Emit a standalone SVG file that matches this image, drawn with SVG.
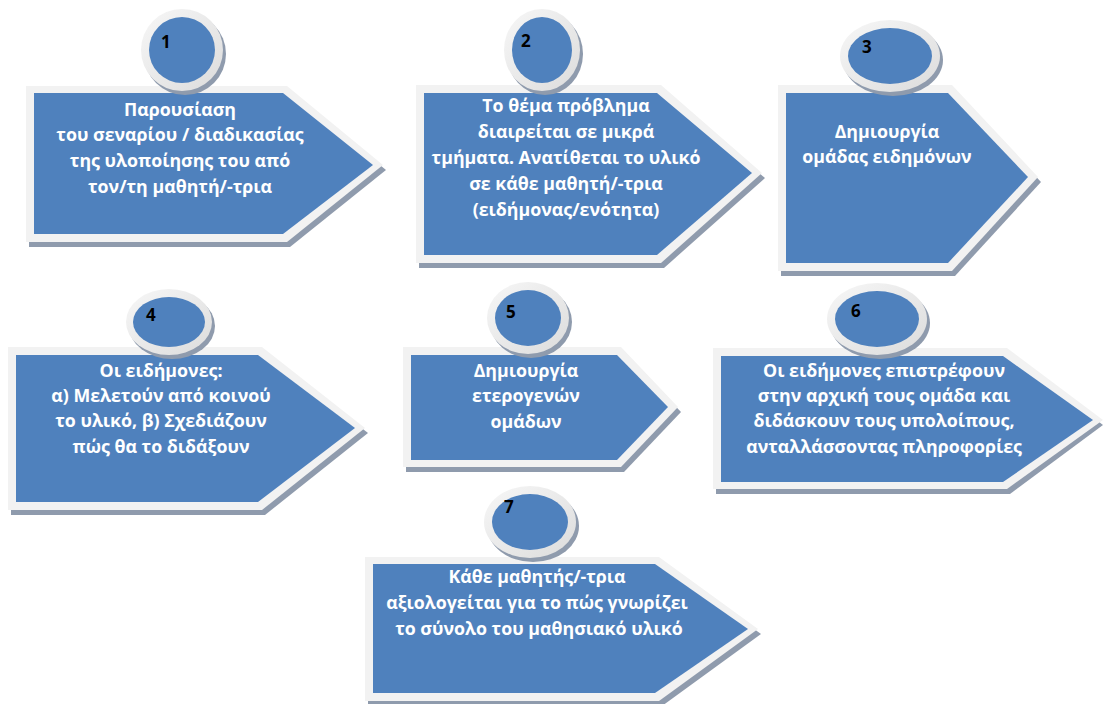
<svg xmlns="http://www.w3.org/2000/svg" width="1103" height="704" viewBox="0 0 1103 704">
<style>
.sh{fill:#8f9bad}
.bd{fill:#f2f2f2}
.bl{fill:#4f81bd}
.rg{fill:url(#ring)}
.cs{fill:#8f9bad}
.t{font-family:"Open Sans","Noto Sans",sans-serif;font-weight:700;font-size:17.8px;fill:#ffffff;text-anchor:middle}
.n{font-family:"Open Sans","Noto Sans",sans-serif;font-weight:700;font-size:17px;fill:#000000}
</style>
<defs>
<linearGradient id="ring" x1="0" y1="0" x2="1" y2="1">
<stop offset="0" stop-color="#f7f7f7"/>
<stop offset="1" stop-color="#dcdcdc"/>
</linearGradient>
</defs>
<rect width="1103" height="704" fill="#ffffff"/>

<g id="node1">
<polygon class="sh" points="29,91 290,91 386,170 290,247 29,247"/>
<polygon class="bd" points="26,86 287,86 383,165 287,242 26,242"/>
<polygon class="bl" points="34,93 283,93 373,165 283,234 34,234"/>
<ellipse class="cs" cx="185" cy="54" rx="41" ry="41"/>
<ellipse class="rg" cx="182" cy="50" rx="41" ry="41"/>
<ellipse class="bl" cx="182" cy="50" rx="33" ry="33"/>
<text class="n" x="161" y="48">1</text>
<text class="t"><tspan x="180" y="116">Παρουσίαση</tspan><tspan x="180" y="141">του σεναρίου / διαδικασίας</tspan><tspan x="180" y="167">της υλοποίησης του από</tspan><tspan x="180" y="193">τον/τη μαθητή/-τρια</tspan></text>
</g>

<g id="node2">
<polygon class="sh" points="419,90 664,90 765,178 664,268 419,268"/>
<polygon class="bd" points="416,85 661,85 762,173 661,263 416,263"/>
<polygon class="bl" points="424,93 657,93 752,173 657,255 424,255"/>
<ellipse class="cs" cx="545" cy="54" rx="38" ry="41"/>
<ellipse class="rg" cx="542" cy="50" rx="38" ry="41"/>
<ellipse class="bl" cx="542" cy="50" rx="30" ry="33"/>
<text class="n" x="521" y="47">2</text>
<text class="t"><tspan x="566" y="112">Το θέμα πρόβλημα</tspan><tspan x="566" y="138">διαιρείται σε μικρά</tspan><tspan x="566" y="164">τμήματα. Ανατίθεται το υλικό</tspan><tspan x="566" y="190">σε κάθε μαθητή/-τρια</tspan><tspan x="566" y="216">(ειδήμονας/ενότητα)</tspan></text>
</g>

<g id="node3">
<polygon class="sh" points="781,90 955,90 1041,182 955,276 781,276"/>
<polygon class="bd" points="778,85 952,85 1038,177 952,271 778,271"/>
<polygon class="bl" points="786,93 948,93 1028,177 948,263 786,263"/>
<ellipse class="cs" cx="893" cy="60" rx="50" ry="36"/>
<ellipse class="rg" cx="890" cy="56" rx="50" ry="36"/>
<ellipse class="bl" cx="890" cy="56" rx="42" ry="28"/>
<text class="n" x="862" y="53">3</text>
<text class="t"><tspan x="887" y="138">Δημιουργία</tspan><tspan x="887" y="163">ομάδας ειδημόνων</tspan></text>
</g>

<g id="node4">
<polygon class="sh" points="11,352 265,352 368,433 265,515 11,515"/>
<polygon class="bd" points="8,347 262,347 365,428 262,510 8,510"/>
<polygon class="bl" points="16,355 258,355 355,428 258,502 16,502"/>
<ellipse class="cs" cx="172" cy="326" rx="43" ry="33"/>
<ellipse class="rg" cx="169" cy="322" rx="43" ry="33"/>
<ellipse class="bl" cx="169" cy="322" rx="36" ry="25"/>
<text class="n" x="146" y="321">4</text>
<text class="t"><tspan x="161" y="377">Οι ειδήμονες:</tspan><tspan x="161" y="402">α) Μελετούν από κοινού</tspan><tspan x="161" y="427">το υλικό, β) Σχεδιάζουν</tspan><tspan x="161" y="453">πώς θα το διδάξουν</tspan></text>
</g>

<g id="node5">
<polygon class="sh" points="406,352 624,352 681,412 624,472 406,472"/>
<polygon class="bd" points="403,347 621,347 678,407 621,467 403,467"/>
<polygon class="bl" points="411,355 617,355 668,407 617,460 411,460"/>
<ellipse class="cs" cx="531" cy="322" rx="41" ry="36"/>
<ellipse class="rg" cx="528" cy="318" rx="41" ry="36"/>
<ellipse class="bl" cx="528" cy="318" rx="33" ry="28"/>
<text class="n" x="506" y="318">5</text>
<text class="t"><tspan x="526" y="377">Δημιουργία</tspan><tspan x="526" y="402">ετερογενών</tspan><tspan x="526" y="428">ομάδων</tspan></text>
</g>

<g id="node6">
<polygon class="sh" points="716,353 1010,353 1103,425 1010,494 716,494"/>
<polygon class="bd" points="713,348 1007,348 1103,420 1007,489 713,489"/>
<polygon class="bl" points="721,356 1003,356 1093,420 1003,482 721,482"/>
<ellipse class="cs" cx="880" cy="323" rx="50" ry="36"/>
<ellipse class="rg" cx="877" cy="319" rx="50" ry="36"/>
<ellipse class="bl" cx="877" cy="319" rx="42" ry="28"/>
<text class="n" x="851" y="317">6</text>
<text class="t"><tspan x="884" y="377">Οι ειδήμονες επιστρέφουν</tspan><tspan x="884" y="402">στην αρχική τους ομάδα και</tspan><tspan x="884" y="427">διδάσκουν τους υπολοίπους,</tspan><tspan x="884" y="453">ανταλλάσσοντας πληροφορίες</tspan></text>
</g>

<g id="node7">
<polygon class="sh" points="368,562 662,562 761,634 662,706 368,706"/>
<polygon class="bd" points="365,557 659,557 758,629 659,701 365,701"/>
<polygon class="bl" points="373,564 655,564 748,629 655,693 373,693"/>
<ellipse class="cs" cx="533" cy="526" rx="46" ry="36"/>
<ellipse class="rg" cx="530" cy="522" rx="46" ry="36"/>
<ellipse class="bl" cx="530" cy="522" rx="38" ry="28"/>
<text class="n" x="504" y="513">7</text>
<text class="t"><tspan x="537" y="583">Κάθε μαθητής/-τρια</tspan><tspan x="537" y="609">αξιολογείται για το πώς γνωρίζει</tspan><tspan x="539" y="635">το σύνολο του μαθησιακό υλικό</tspan></text>
</g>

<g id="connectors"></g>
</svg>
